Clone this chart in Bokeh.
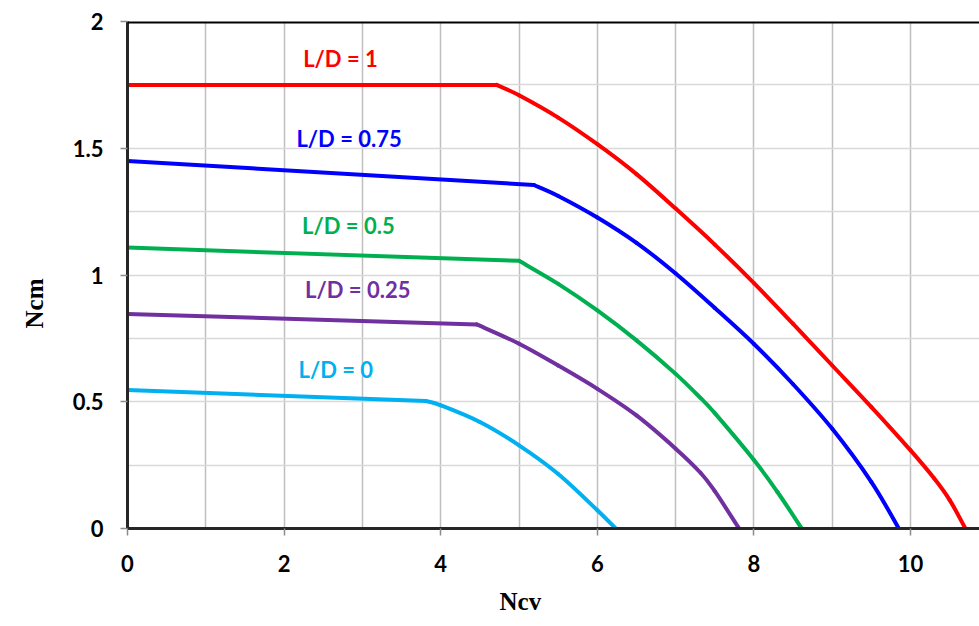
from bokeh.plotting import figure
from bokeh.models import Range1d, FixedTicker, Label, Span, Title
from bokeh.embed import file_html
from bokeh.resources import INLINE

# ---- data ----
red_x = [0, 4.715, 5.0, 5.5, 6.0, 6.5, 7.0, 7.5, 8.0, 8.5, 9.0, 9.5, 10.0, 10.3, 10.5, 10.7]
red_y = [1.75, 1.75, 1.709, 1.621, 1.516, 1.398, 1.262, 1.12, 0.968, 0.807, 0.643, 0.479, 0.308, 0.198, 0.112, 0.0]

blue_x = [0, 5.19, 5.5, 6.0, 6.5, 7.0, 7.5, 8.0, 8.5, 9.0, 9.5, 9.85]
blue_y = [1.45, 1.355, 1.312, 1.227, 1.127, 1.006, 0.870, 0.728, 0.569, 0.393, 0.183, 0.0]

green_x = [0, 5.0, 5.5, 6.0, 6.5, 7.0, 7.32, 7.5, 8.0, 8.3, 8.61]
green_y = [1.108, 1.056, 0.965, 0.860, 0.742, 0.610, 0.514, 0.455, 0.27, 0.144, 0.0]

purple_x = [0, 4.46, 5.0, 5.5, 6.0, 6.5, 7.0, 7.32, 7.5, 7.81]
purple_y = [0.846, 0.805, 0.729, 0.643, 0.551, 0.446, 0.315, 0.219, 0.147, 0.0]

cyan_x = [0, 3.81, 4.0, 4.5, 5.0, 5.5, 6.0, 6.234]
cyan_y = [0.546, 0.503, 0.486, 0.42, 0.328, 0.215, 0.072, 0.0]

series_names = ["L/D = 1", "L/D = 0.75", "L/D = 0.5", "L/D = 0.25", "L/D = 0"]
label_x = [2.72, 2.83, 2.82, 2.94, 2.66]
label_y = [1.855, 1.539, 1.197, 0.942, 0.629]

x_ticks = [0, 2, 4, 6, 8, 10]
x_grid = [1, 2, 3, 4, 5, 6, 7, 8, 9, 10]
y_ticks = [0, 0.5, 1, 1.5, 2]
y_tick_labels = ["0", "0.5", "1", "1.5", "2"]
y_grid = [0.25, 0.5, 0.75, 1.0, 1.25, 1.5, 1.75]

x_title = "Ncv"
y_title = "Ncm"

colors = ["#FF0000", "#0000FF", "#00B050", "#7030A0", "#00B0F0"]
xs = [red_x, blue_x, green_x, purple_x, cyan_x]
ys = [red_y, blue_y, green_y, purple_y, cyan_y]

p = figure(width=979, height=626, output_backend="svg", toolbar_location=None,
           x_range=Range1d(0, 10.88), y_range=Range1d(0, 2),
           min_border_left=126, min_border_right=0, min_border_top=21, min_border_bottom=98)
p.outline_line_color = None
p.background_fill_color = "white"

# grids
p.xgrid.ticker = FixedTicker(ticks=x_grid)
p.xgrid.grid_line_color = "#BFBFBF"
p.xgrid.grid_line_width = 1.5
p.ygrid.ticker = FixedTicker(ticks=y_grid)
p.ygrid.grid_line_color = "#D9D9D9"
p.ygrid.grid_line_width = 1.5

# axes
p.xaxis.ticker = FixedTicker(ticks=x_ticks)
p.yaxis.ticker = FixedTicker(ticks=y_ticks)
p.yaxis.major_label_overrides = {t: s for t, s in zip(y_ticks, y_tick_labels)}
for ax in (p.xaxis, p.yaxis):
    ax.axis_line_color = "#262626"
    ax.axis_line_width = 3
    ax.major_tick_line_color = "#8C8C8C"
    ax.major_tick_line_width = 1.5
    ax.major_tick_out = 7
    ax.major_tick_in = 0
    ax.minor_tick_line_color = None
    ax.major_label_text_font = "Lato"
    ax.major_label_text_font_style = "bold"
    ax.major_label_text_font_size = "22px"
    ax.major_label_text_color = "black"
p.xaxis.major_label_standoff = 19
p.yaxis.major_label_standoff = 17

# axis titles as side titles (offset along the axis like the reference)
p.add_layout(Title(text=x_title, align="left", offset=372, standoff=22,
                   text_font="Liberation Serif", text_font_style="bold",
                   text_font_size="25px", text_color="black"), "below")
p.add_layout(Title(text=y_title, align="left", offset=200, standoff=40, vertical_align="top",
                   text_font="Liberation Serif", text_font_style="bold",
                   text_font_size="25px", text_color="black"), "left")

# top border line
p.add_layout(Span(location=2, dimension="width", line_color="black", line_width=4))


def smooth_segments(px, py):
    """Bezier segments through the read points (smoothed line, like the source chart)."""
    n = len(px)
    out = dict(x0=[], y0=[], x1=[], y1=[], cx0=[], cy0=[], cx1=[], cy1=[])
    for i in range(n - 1):
        a = i - 1 if i > 0 else i
        b = i + 2 if i + 2 < n else i + 1
        out["x0"].append(px[i]); out["y0"].append(py[i])
        out["x1"].append(px[i + 1]); out["y1"].append(py[i + 1])
        out["cx0"].append(px[i] + (px[i + 1] - px[a]) / 6.0)
        out["cy0"].append(py[i] + (py[i + 1] - py[a]) / 6.0)
        out["cx1"].append(px[i + 1] - (px[b] - px[i]) / 6.0)
        out["cy1"].append(py[i + 1] - (py[b] - py[i]) / 6.0)
    return out


for x, y, c in zip(xs, ys, colors):
    # straight first part up to the break point
    p.line(x[:2], y[:2], line_color=c, line_width=4, line_join="round", line_cap="round")
    # curved part after the break point
    seg = smooth_segments(x[1:], y[1:])
    p.bezier(x0=seg["x0"], y0=seg["y0"], x1=seg["x1"], y1=seg["y1"],
             cx0=seg["cx0"], cy0=seg["cy0"], cx1=seg["cx1"], cy1=seg["cy1"],
             line_color=c, line_width=4, line_cap="round")

for name, lx, ly, c in zip(series_names, label_x, label_y, colors):
    p.add_layout(Label(x=lx, y=ly, text=name, text_align="center", text_baseline="middle",
                       text_font="Lato", text_font_style="bold",
                       text_font_size="22px", text_color=c))

open("out.html", "w").write(file_html(p, INLINE))
